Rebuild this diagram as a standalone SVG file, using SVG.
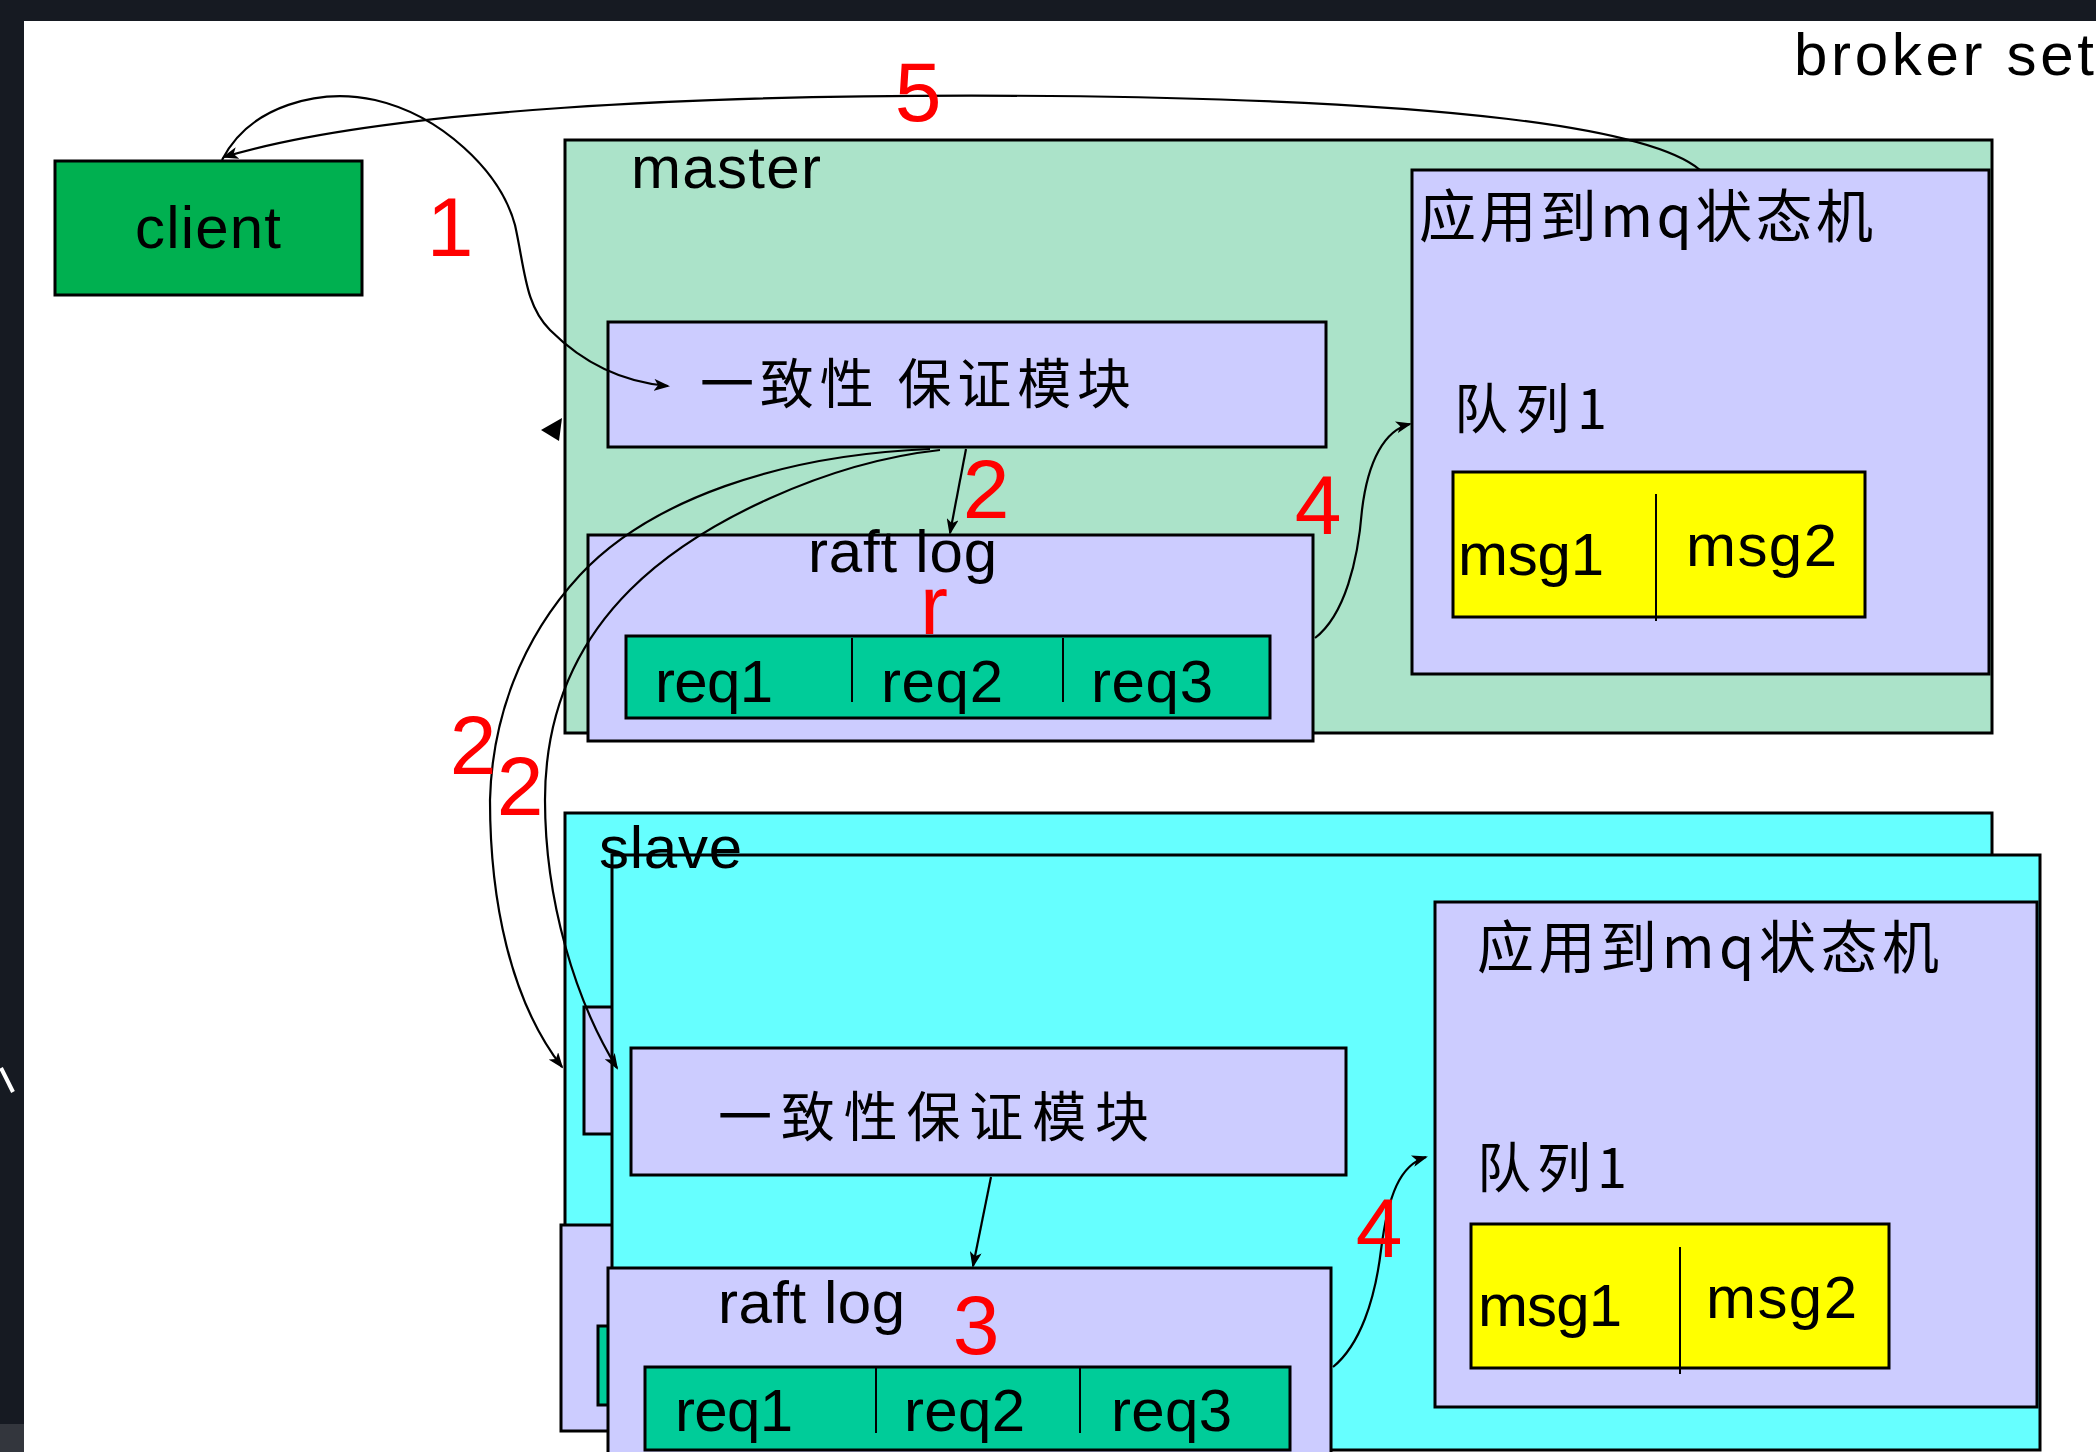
<svg xmlns="http://www.w3.org/2000/svg" width="2096" height="1452" viewBox="0 0 2096 1452">
<defs>
<style>
.box{stroke:#000;stroke-width:3}
.lav{fill:#ccccff}
.req{fill:#00cc99}
.yel{fill:#ffff00}
.cyan{fill:#66ffff}
.mint{fill:#abe3c9}
.t{font-family:"Liberation Sans",Arial,sans-serif;fill:#000;font-size:60px}
.cjk{font-family:"Noto Sans CJK SC","Noto Sans",sans-serif;fill:#000}
.red{font-family:"Liberation Sans",Arial,sans-serif;fill:#ff0000;font-size:84px;text-anchor:middle}
.div{stroke:#000;stroke-width:2}
.conn{fill:none;stroke:#000;stroke-width:2.2}
</style>
<marker id="ah" markerWidth="16" markerHeight="12" refX="14" refY="6" orient="auto" markerUnits="userSpaceOnUse">
<path d="M0,0 L16,6 L0,12 L4,6 Z" fill="#000"/>
</marker>
</defs>

<rect x="0" y="0" width="2096" height="1452" fill="#ffffff"/>
<rect x="0" y="0" width="2096" height="21" fill="#161a22"/>
<rect x="0" y="0" width="24" height="1452" fill="#161a22"/>
<rect x="0" y="1424" width="24" height="28" fill="#33363d"/>
<line x1="1" y1="1068" x2="13" y2="1092" stroke="#ffffff" stroke-width="4"/>

<text class="t" x="1794" y="75" font-size="66" textLength="300">broker set</text>

<g id="client">
<rect class="box" x="55" y="161" width="307" height="134" fill="#00b050"/>
<text class="t" x="135" y="248" font-size="62" textLength="146">client</text>
</g>

<g id="master">
<rect class="box mint" x="565" y="140" width="1427" height="593"/>
<text class="t" x="631" y="188" font-size="62" textLength="190">master</text>
<g id="master-consistency">
<rect class="box lav" x="608" y="322" width="718" height="125"/>
<text class="cjk" x="700" y="404" font-size="54" textLength="431" lengthAdjust="spacing">一致性 保证模块</text>
</g>
<g id="master-raftlog">
<rect class="box lav" x="588" y="535" width="725" height="206"/>
<text class="t" x="808" y="572" font-size="62" textLength="189">raft log</text>
<rect class="box req" x="626" y="636" width="644" height="82"/>
<line class="div" x1="852" y1="638" x2="852" y2="702"/>
<line class="div" x1="1063" y1="638" x2="1063" y2="702"/>
<text class="t" x="655" y="702" textLength="118">req1</text>
<text class="t" x="881" y="702" textLength="122">req2</text>
<text class="t" x="1091" y="702" textLength="122">req3</text>
</g>
<g id="master-statemachine">
<rect class="box lav" x="1412" y="170" width="577" height="504"/>
<text class="cjk" x="1419" y="237" font-size="57" textLength="454" lengthAdjust="spacing">应用到mq状态机</text>
<text class="cjk" x="1454" y="429" font-size="54" textLength="153" lengthAdjust="spacing">队列1</text>
<rect class="box yel" x="1453" y="472" width="412" height="145"/>
<line class="div" x1="1656" y1="494" x2="1656" y2="621"/>
<text class="t" x="1458" y="575" textLength="146">msg1</text>
<text class="t" x="1686" y="566" textLength="151">msg2</text>
</g>
</g>

<g id="slave-back">
<rect class="box cyan" x="565" y="813" width="1427" height="612"/>
<rect class="box lav" x="584" y="1007" width="100" height="127"/>
<rect class="box lav" x="561" y="1225" width="150" height="206"/>
<rect class="box req" x="598" y="1326" width="100" height="79"/>
</g>

<g id="slave">
<rect class="box cyan" x="612" y="855" width="1428" height="595"/>
<text class="t" x="599" y="868" font-size="61" textLength="143">slave</text>
<g id="slave-consistency">
<rect class="box lav" x="631" y="1048" width="715" height="127"/>
<text class="cjk" x="718" y="1137" font-size="54" textLength="431" lengthAdjust="spacing">一致性保证模块</text>
</g>
<g id="slave-raftlog">
<rect class="box lav" x="608" y="1268" width="723" height="220"/>
<text class="t" x="718" y="1323" font-size="61" textLength="187">raft log</text>
<rect class="box req" x="645" y="1367" width="645" height="83"/>
<line class="div" x1="876" y1="1368" x2="876" y2="1433"/>
<line class="div" x1="1080" y1="1368" x2="1080" y2="1433"/>
<text class="t" x="675" y="1431" textLength="118">req1</text>
<text class="t" x="904" y="1431" textLength="121">req2</text>
<text class="t" x="1111" y="1431" textLength="121">req3</text>
</g>
<g id="slave-statemachine">
<rect class="box lav" x="1435" y="902" width="602" height="505"/>
<text class="cjk" x="1477" y="968" font-size="57" textLength="462" lengthAdjust="spacing">应用到mq状态机</text>
<text class="cjk" x="1477" y="1188" font-size="54" textLength="150" lengthAdjust="spacing">队列1</text>
<rect class="box yel" x="1471" y="1224" width="418" height="144"/>
<line class="div" x1="1680" y1="1247" x2="1680" y2="1374"/>
<text class="t" x="1478" y="1326" textLength="144">msg1</text>
<text class="t" x="1706" y="1318" textLength="151">msg2</text>
</g>
</g>

<g id="connectors">
<path class="conn" d="M 1700 170 C 1650 128, 1450 100, 1050 96 C 700 93, 380 110, 224 157" marker-end="url(#ah)"/>
<path class="conn" d="M 222 160 C 250 105, 320 88, 375 100 C 440 115, 500 170, 515 225 C 525 270, 525 305, 550 330 C 580 360, 620 382, 668 386" marker-end="url(#ah)"/>
<path class="conn" d="M 966 449 L 950 533" marker-end="url(#ah)"/>
<path class="conn" d="M 930 449 C 780 455, 650 500, 580 575 C 520 640, 492 720, 490 800 C 490 900, 510 1000, 562 1067" marker-end="url(#ah)"/>
<path class="conn" d="M 940 450 C 830 462, 700 520, 630 590 C 570 650, 545 720, 545 800 C 545 900, 575 1000, 617 1068" marker-end="url(#ah)"/>
<path class="conn" d="M 1315 638 C 1345 615, 1358 560, 1362 510 C 1368 460, 1385 430, 1410 424" marker-end="url(#ah)"/>
<path class="conn" d="M 991 1177 L 973 1266" marker-end="url(#ah)"/>
<path class="conn" d="M 1333 1367 C 1360 1345, 1375 1300, 1381 1250 C 1388 1195, 1400 1165, 1426 1157" marker-end="url(#ah)"/>
<polygon points="541,430 562,418 559,441" fill="#000"/>
</g>

<g id="labels">
<text class="red" x="450" y="256">1</text>
<text class="red" x="918" y="121">5</text>
<text class="red" x="986" y="518">2</text>
<text class="red" x="1318" y="534">4</text>
<text class="red" x="920" y="634" font-size="86" style="text-anchor:start">r</text>
<text class="red" x="473" y="774">2</text>
<text class="red" x="520" y="815">2</text>
<text class="red" x="976" y="1354">3</text>
<text class="red" x="1379" y="1257">4</text>
</g>
</svg>
